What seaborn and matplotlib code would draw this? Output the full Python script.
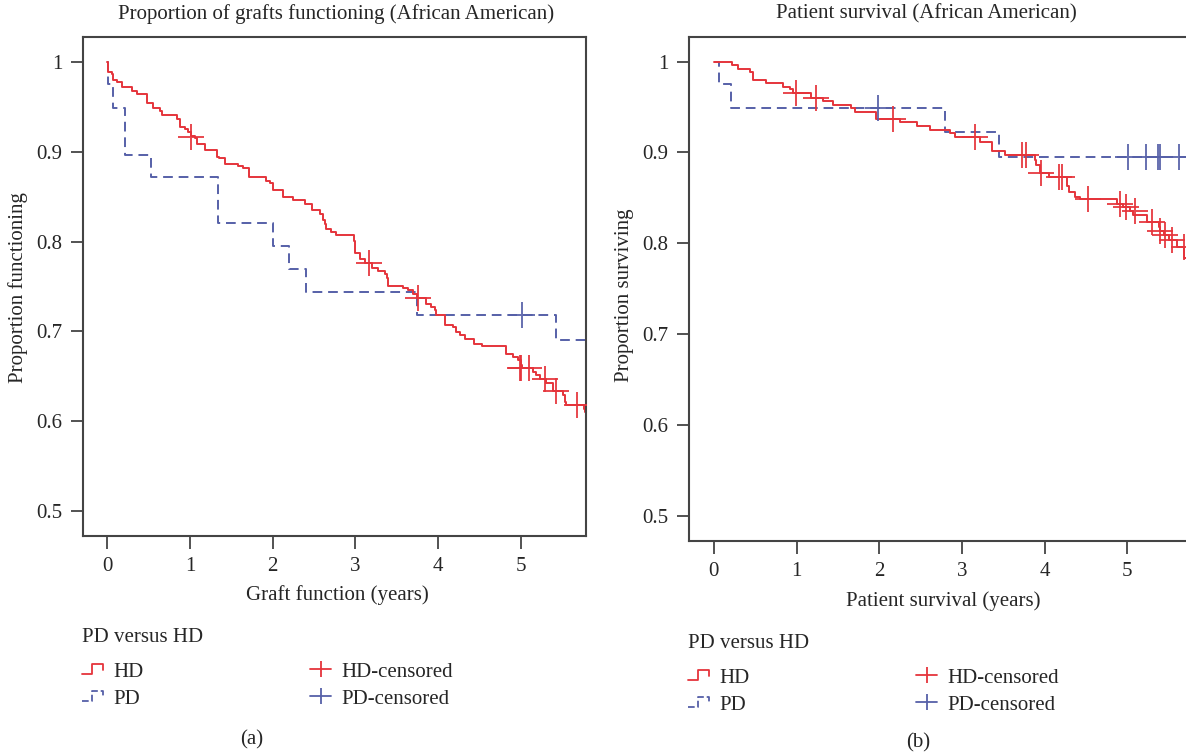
import numpy as np
import pandas as pd
import matplotlib
matplotlib.use("Agg")
import matplotlib.pyplot as plt
import seaborn as sns
from matplotlib.lines import Line2D
from matplotlib.legend_handler import HandlerBase

# ---------------- data ----------------
# Panel (a): graft function, HD
graft_hd_time = [0.0, 0.012, 0.053, 0.073, 0.113, 0.174, 0.295, 0.363, 0.484, 0.549, 0.637,
                 0.665, 0.847, 0.879, 0.94, 0.98, 1.008, 1.06, 1.08, 1.181, 1.323, 1.355,
                 1.423, 1.584, 1.645, 1.717, 1.919, 1.967, 2.0, 2.12, 2.249, 2.39, 2.47,
                 2.57, 2.61, 2.63, 2.65, 2.71, 2.77, 2.98, 2.995, 3.06, 3.12, 3.20, 3.28,
                 3.36, 3.38, 3.40, 3.58, 3.64, 3.70, 3.74, 3.86, 3.92, 3.96, 3.98, 4.08,
                 4.18, 4.22, 4.26, 4.33, 4.43, 4.53, 4.82, 4.91, 4.97, 5.00, 5.01, 5.15,
                 5.19, 5.23, 5.31, 5.39, 5.51, 5.53, 5.55, 5.76, 5.78, 5.80]
graft_hd_surv = [1.0, 0.989, 0.987, 0.980, 0.978, 0.972, 0.968, 0.965, 0.954, 0.949, 0.945,
                 0.941, 0.937, 0.928, 0.925, 0.922, 0.918, 0.915, 0.909, 0.902, 0.894, 0.893,
                 0.887, 0.884, 0.882, 0.872, 0.868, 0.865, 0.858, 0.850, 0.846, 0.842, 0.835,
                 0.831, 0.824, 0.820, 0.814, 0.811, 0.807, 0.801, 0.787, 0.781, 0.776, 0.771,
                 0.767, 0.764, 0.759, 0.751, 0.748, 0.746, 0.742, 0.737, 0.731, 0.727, 0.724,
                 0.718, 0.707, 0.705, 0.699, 0.696, 0.692, 0.686, 0.684, 0.675, 0.672, 0.668,
                 0.662, 0.659, 0.655, 0.651, 0.647, 0.642, 0.634, 0.629, 0.621, 0.618, 0.614,
                 0.610, 0.610]
graft_hd_cens_time = [1.01, 3.16, 3.76, 4.99, 5.00, 5.10, 5.29, 5.43, 5.68]
graft_hd_cens_surv = [0.917, 0.776, 0.737, 0.659, 0.659, 0.659, 0.647, 0.634, 0.618]

# Panel (a): graft function, PD
graft_pd_time = [0.0, 0.005, 0.073, 0.215, 0.53, 1.34, 2.0, 2.197, 2.40, 3.74, 5.43, 5.80]
graft_pd_surv = [1.0, 0.976, 0.949, 0.897, 0.872, 0.821, 0.795, 0.769, 0.744, 0.718, 0.690, 0.690]
graft_pd_cens_time = [5.01]
graft_pd_cens_surv = [0.718]

# Panel (b): patient survival, HD
surv_hd_time = [0.0, 0.226, 0.294, 0.436, 0.468, 0.637, 0.839, 0.92, 0.96, 1.18, 1.32, 1.44,
                1.66, 1.71, 1.96, 2.25, 2.46, 2.61, 2.86, 2.92, 3.22, 3.36, 3.52, 3.88, 3.90,
                3.94, 4.05, 4.27, 4.29, 4.37, 4.43, 4.87, 4.95, 5.03, 5.07, 5.24, 5.38, 5.40,
                5.44, 5.50, 5.60, 5.69, 5.75]
surv_hd_surv = [1.0, 0.996, 0.992, 0.988, 0.980, 0.976, 0.972, 0.970, 0.965, 0.960, 0.957,
                0.952, 0.949, 0.945, 0.937, 0.933, 0.929, 0.925, 0.921, 0.917, 0.911, 0.901,
                0.897, 0.892, 0.886, 0.877, 0.873, 0.863, 0.856, 0.851, 0.849, 0.843, 0.840,
                0.835, 0.831, 0.823, 0.818, 0.814, 0.809, 0.804, 0.796, 0.784, 0.784]
surv_hd_cens_time = [0.99, 1.24, 2.17, 3.16, 3.73, 3.77, 3.96, 4.18, 4.21, 4.52, 4.91, 4.99,
                     5.09, 5.30, 5.40, 5.46, 5.54, 5.68]
surv_hd_cens_surv = [0.965, 0.960, 0.937, 0.917, 0.897, 0.897, 0.877, 0.873, 0.873, 0.849,
                     0.843, 0.840, 0.835, 0.823, 0.814, 0.809, 0.804, 0.796]

# Panel (b): patient survival, PD
surv_pd_time = [0.0, 0.064, 0.206, 2.80, 3.45, 5.75]
surv_pd_surv = [1.0, 0.975, 0.949, 0.922, 0.895, 0.895]
surv_pd_cens_time = [1.98, 5.01, 5.23, 5.37, 5.40, 5.62]
surv_pd_cens_surv = [0.949, 0.895, 0.895, 0.895, 0.895, 0.895]

y_ticks = [0.5, 0.6, 0.7, 0.8, 0.9, 1.0]
y_tick_labels = ["0.5", "0.6", "0.7", "0.8", "0.9", "1"]
x_ticks = [0, 1, 2, 3, 4, 5]
x_tick_labels = ["0", "1", "2", "3", "4", "5"]
legend_title = "PD versus HD"
legend_labels = ["HD", "PD", "HD-censored", "PD-censored"]

# ---------------- style ----------------
sns.set_theme(style="white")
plt.rcParams["font.family"] = ["Liberation Serif", "DejaVu Serif"]
RED = "#E5343B"
BLUE = "#5660A8"
SPINE = "#444444"
FS = 15

fig = plt.figure(figsize=(11.86, 7.52), dpi=100)
W, H = 1186.0, 752.0


def fx(px):
    return px / W


def fy(py):
    return 1 - py / H


ax1 = fig.add_axes([fx(83), fy(536), fx(586) - fx(83), fy(37) - fy(536)])
ax2 = fig.add_axes([fx(689), fy(541.3), 1.0 - fx(689), fy(37) - fy(541.3)])


def km(ax, t, s, color, ls):
    df = pd.DataFrame({"t": t, "s": s})
    sns.lineplot(data=df, x="t", y="s", ax=ax, color=color, drawstyle="steps-post",
                 estimator=None, sort=True, linewidth=1.4, linestyle=ls, zorder=2)


def cens(ax, t, s, color):
    df = pd.DataFrame({"t": t, "s": s})
    sns.scatterplot(data=df, x="t", y="s", ax=ax, color=color, marker="+", s=370,
                    linewidth=1.4, zorder=3, alpha=0.9)


DASH = (0, (5, 3))
km(ax1, graft_pd_time, graft_pd_surv, BLUE, DASH)
km(ax1, graft_hd_time, graft_hd_surv, RED, "-")
cens(ax1, graft_hd_cens_time, graft_hd_cens_surv, RED)
cens(ax1, graft_pd_cens_time, graft_pd_cens_surv, BLUE)

km(ax2, surv_pd_time, surv_pd_surv, BLUE, DASH)
km(ax2, surv_hd_time, surv_hd_surv, RED, "-")
cens(ax2, surv_hd_cens_time, surv_hd_cens_surv, RED)
cens(ax2, surv_pd_cens_time, surv_pd_cens_surv, BLUE)

for ax, xl, yl in [(ax1, (-0.294, 5.79), (0.472, 1.028)), (ax2, (-0.30, 5.71), (0.472, 1.027))]:
    ax.set_xlim(*xl)
    ax.set_ylim(*yl)
    ax.set_xticks(x_ticks)
    ax.set_xticklabels(x_tick_labels)
    ax.set_yticks(y_ticks)
    ax.set_yticklabels(y_tick_labels)
    ax.set_xlabel("")
    ax.set_ylabel("")
    ax.tick_params(axis="both", direction="out", length=9, width=1.3, color=SPINE,
                   labelsize=FS, pad=6, bottom=True, left=True)
    for sp in ax.spines.values():
        sp.set_color(SPINE)
        sp.set_linewidth(1.5)
ax2.spines["right"].set_visible(False)

# titles and axis labels
fig.text(fx(336), fy(14), "Proportion of grafts functioning (African American)",
         ha="center", va="center", fontsize=FS)
fig.text(fx(926), fy(14), "Patient survival (African American)",
         ha="center", va="center", fontsize=FS)
fig.text(fx(18), fy(288), "Proportion functioning", rotation=90, ha="center", va="center", fontsize=FS)
fig.text(fx(625), fy(295), "Proportion surviving", rotation=90, ha="center", va="center", fontsize=FS)
fig.text(fx(337), fy(595), "Graft function (years)", ha="center", va="center", fontsize=FS)
fig.text(fx(943), fy(601), "Patient survival (years)", ha="center", va="center", fontsize=FS)
fig.text(fx(252), fy(740), "(a)", ha="center", va="center", fontsize=FS)
fig.text(fx(918), fy(743), "(b)", ha="center", va="center", fontsize=FS)


class StepHandler(HandlerBase):
    def create_artists(self, legend, orig_handle, xdescent, ydescent, width, height,
                       fontsize, trans):
        xs = np.array([0.0, 0.5, 0.5, 1.0, 1.0]) * width - xdescent
        ys = np.array([0.2, 0.2, 0.85, 0.85, 0.45]) * height - ydescent
        ln = Line2D(xs, ys, color=orig_handle.get_color(), linestyle=orig_handle.get_linestyle(),
                    linewidth=orig_handle.get_linewidth(), transform=trans)
        return [ln]


def make_handles():
    h_hd = Line2D([], [], color=RED, lw=1.3)
    h_pd = Line2D([], [], color=BLUE, lw=1.3, linestyle=(0, (3, 2)))
    h_hdc = Line2D([], [], color=RED, lw=1.3, marker="|", markersize=11, markeredgewidth=1.3)
    h_pdc = Line2D([], [], color=BLUE, lw=1.3, marker="|", markersize=11, markeredgewidth=1.3)
    return [h_hd, h_pd, h_hdc, h_pdc]


for (lx, title_y, row_top) in [(82, 637, 662), (688, 644, 668)]:
    fig.text(fx(lx), fy(title_y), legend_title, ha="left", va="center", fontsize=FS)
    hs = make_handles()
    fig.legend(hs, legend_labels, loc="upper left", bbox_to_anchor=(fx(lx), fy(row_top)),
               bbox_transform=fig.transFigure, ncol=2, frameon=False,
               fontsize=FS, borderpad=0, borderaxespad=0, handlelength=1.0,
               handletextpad=0.5, columnspacing=8.0, labelspacing=0.36, numpoints=1,
               handler_map={hs[0]: StepHandler(), hs[1]: StepHandler()})

fig.savefig("out.png", dpi=100)
